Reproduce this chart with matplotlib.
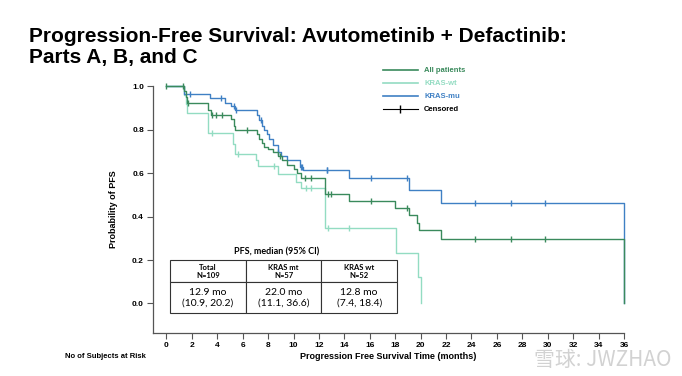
import matplotlib.pyplot as plt
from matplotlib.lines import Line2D

# Kaplan-Meier step points (time in months, survival probability)
all_t = [0, 1.4, 1.5, 1.6, 3.3, 3.5, 5.1, 5.3, 5.4, 7.1, 7.3, 7.5, 7.7, 8.0, 8.4, 8.8,
         9.1, 9.5, 10.0, 10.3, 10.6, 12.5, 14.4, 18.0, 19.1, 19.7, 19.9, 21.6, 36.0]
all_s = [1.0, 0.98, 0.95, 0.925, 0.89, 0.87, 0.85, 0.82, 0.80, 0.78, 0.76, 0.74, 0.72, 0.71,
         0.70, 0.68, 0.66, 0.64, 0.62, 0.60, 0.577, 0.503, 0.471, 0.442, 0.407, 0.371, 0.338,
         0.295, 0.0]
all_cens = [0, 1.3, 1.7, 3.6, 3.9, 4.4, 6.3, 8.9, 10.9, 11.4, 12.7, 12.95, 16.1, 18.96,
            24.3, 27.1, 29.8]

mu_t = [0, 1.4, 3.4, 4.6, 5.1, 5.4, 7.1, 7.3, 7.5, 7.7, 7.9, 8.1, 8.4, 8.8, 9.0, 9.45,
        10.5, 10.75, 14.4, 19.1, 21.6, 36.0]
mu_s = [1.0, 0.963, 0.948, 0.925, 0.912, 0.893, 0.87, 0.845, 0.82, 0.80, 0.78, 0.76, 0.73,
        0.70, 0.68, 0.66, 0.63, 0.617, 0.58, 0.525, 0.463, 0.0]
mu_cens = [1.85, 4.3, 5.3, 5.45, 7.4, 8.8, 10.55, 10.65, 12.6, 12.65, 16.1, 18.96,
           24.3, 27.1, 29.8]

wt_t = [0, 1.4, 1.5, 1.6, 3.3, 5.25, 5.4, 7.05, 7.2, 8.8, 10.2, 10.6, 12.46, 18.05, 19.8, 20.0]
wt_s = [1.0, 0.96, 0.92, 0.879, 0.787, 0.736, 0.69, 0.66, 0.632, 0.597, 0.56, 0.53, 0.346,
        0.231, 0.12, 0.0]
wt_cens = [3.55, 5.65, 8.5, 11.0, 11.4, 12.7, 14.4]

# median PFS table
col_heads = ["Total\nN=109", "KRAS mt\nN=57", "KRAS wt\nN=52"]
col_vals = ["12.9 mo\n(10.9, 20.2)", "22.0 mo\n(11.1, 36.6)", "12.8 mo\n(7.4, 18.4)"]

c_all = "#3a8a5c"
c_wt = "#93dcc2"
c_mu = "#3f80c4"

fig = plt.figure(figsize=(6.82, 3.76), dpi=100)
ax = fig.add_axes([153 / 682, 43 / 376, 471 / 682, 247 / 376])

def km(t, s, cens, color):
    ax.step(t, s, where="post", color=color, lw=1.0, clip_on=False)
    ys = []
    for c in cens:
        idx = max(i for i, tt in enumerate(t) if tt <= c)
        ys.append(s[idx])
    ax.plot(cens, ys, ls="none", marker="|", ms=5, mew=1.0, color=color, clip_on=False)

km(wt_t, wt_s, wt_cens, c_wt)
km(mu_t, mu_s, mu_cens, c_mu)
km(all_t, all_s, all_cens, c_all)

ax.set_xlim(-1.06, 36.0)
ax.set_ylim(-0.136, 1.002)
ax.set_xticks(range(0, 37, 2))
ax.set_yticks([0, 0.2, 0.4, 0.6, 0.8, 1.0])
ax.set_yticklabels(["0.0", "0.2", "0.4", "0.6", "0.8", "1.0"])
for sp in ["top", "right"]:
    ax.spines[sp].set_visible(False)
for sp in ["left", "bottom"]:
    ax.spines[sp].set_color("#555555")
    ax.spines[sp].set_linewidth(0.9)
ax.tick_params(length=4, width=0.8, color="#555555", labelsize=6, pad=2.5)
for lab in ax.get_xticklabels() + ax.get_yticklabels():
    lab.set_fontweight("bold")
    lab.set_family("Liberation Sans")
ax.set_ylabel("Probability of PFS", fontsize=6.5, fontweight="bold", family="Liberation Sans", labelpad=10)
ax.set_xlabel("Progression Free Survival Time (months)", fontsize=6.5, fontweight="bold",
              family="Liberation Sans", labelpad=2)
fig.text(65 / 682, 1 - 357 / 376, "No of Subjects at Risk", fontsize=5.5, fontweight="bold",
         family="Liberation Sans", va="center")

# title
fig.text(29 / 682, 1 - 37 / 376, "Progression-Free Survival: Avutometinib + Defactinib:",
         fontsize=15, fontweight="bold", family="Liberation Sans", va="center")
fig.text(29 / 682, 1 - 58 / 376, "Parts A, B, and C",
         fontsize=15, fontweight="bold", family="Liberation Sans", va="center")

# legend
handles = [Line2D([], [], color=c_all, lw=1.2),
           Line2D([], [], color=c_wt, lw=1.2),
           Line2D([], [], color=c_mu, lw=1.2),
           Line2D([], [], color="black", lw=0.8, marker="|", ms=6)]
leg = fig.legend(handles, ["All patients", "KRAS-wt", "KRAS-mu", "Censored"],
                 loc="upper left", bbox_to_anchor=(376 / 682, 1 - 60 / 376), frameon=False,
                 prop={"size": 5.5, "weight": "bold", "family": "Liberation Sans"},
                 handlelength=4.6, handletextpad=0.8, labelspacing=0.75,
                 labelcolor=[c_all, c_wt, c_mu, "black"])

# median table
tab = ax.table(cellText=[col_heads, col_vals], cellLoc="center",
               bbox=[(170 - 153) / 471, (333 - 313.3) / 247, (397 - 170) / 471, (313.3 - 260) / 247])
tab.auto_set_font_size(False)
for (r, c), cell in tab.get_celld().items():
    cell.set_linewidth(0.8)
    cell.set_edgecolor("#333333")
    cell.set_facecolor("white")
    txt = cell.get_text()
    txt.set_family("Lato")
    if r == 0:
        cell.set_height(0.42 * (313.3 - 260) / 247)
        txt.set_fontsize(5.5)
        txt.set_fontweight("bold")
    else:
        cell.set_height(0.58 * (313.3 - 260) / 247)
        txt.set_fontsize(7.5)
fig.text(277 / 682, 1 - 251.5 / 376, "PFS, median (95% CI)", fontsize=6.5, fontweight="bold",
         family="Lato", ha="center", va="center")

# watermark
fig.text(672 / 682, 1 - 360 / 376, "雪球: JWZHAO", fontsize=15, color="#d2d2d2",
         family=["Noto Sans CJK SC", "DejaVu Sans"], ha="right", va="center")

fig.savefig("out.png", dpi=100)
